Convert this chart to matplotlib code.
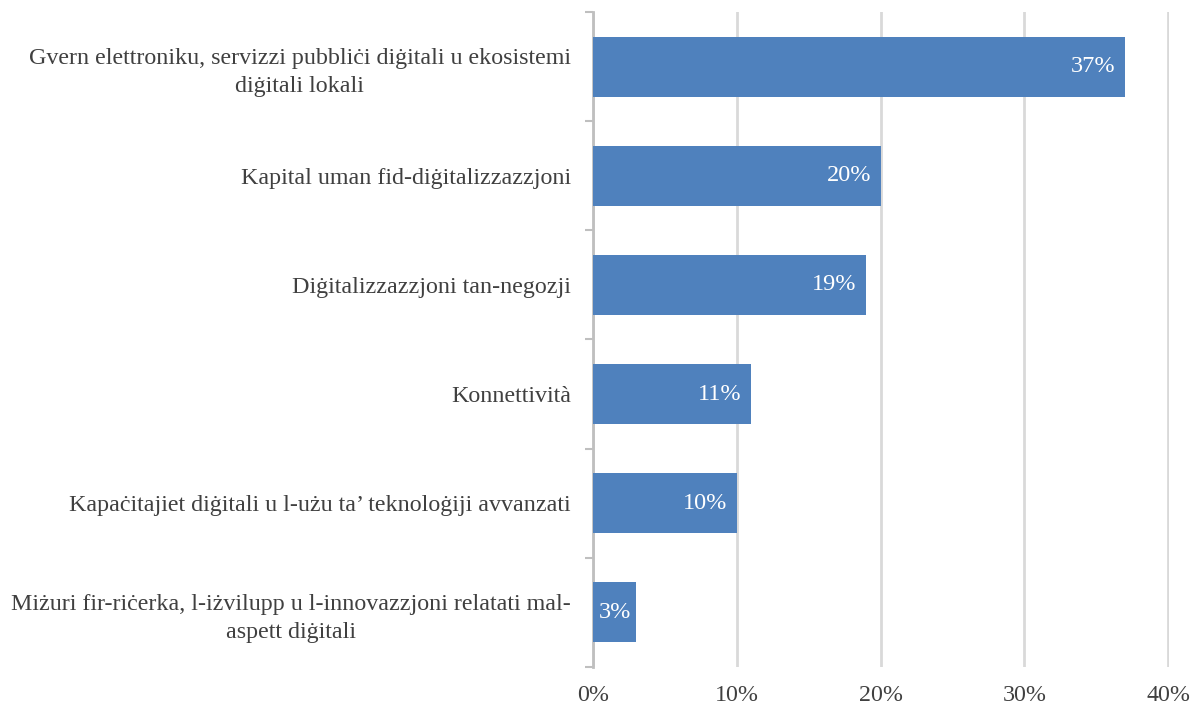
import matplotlib
matplotlib.use("Agg")
import matplotlib.pyplot as plt
from matplotlib.ticker import FixedLocator, PercentFormatter

categories = [
    "Gvern elettroniku, servizzi pubbliċi diġitali u ekosistemi\ndiġitali lokali",
    "Kapital uman fid-diġitalizzazzjoni",
    "Diġitalizzazzjoni tan-negozji",
    "Konnettività",
    "Kapaċitajiet diġitali u l-użu ta’ teknoloġiji avvanzati",
    "Miżuri fir-riċerka, l-iżvilupp u l-innovazzjoni relatati mal-\naspett diġitali",
]
values = [37, 20, 19, 11, 10, 3]

plt.rcParams['font.family'] = ['Liberation Serif', 'DejaVu Serif']

fig = plt.figure(figsize=(11.92, 7.05), dpi=100)
ax = fig.add_axes([0.4975, 0.054, 0.4832, 0.929])

y = list(range(len(categories)))
ax.barh(y, values, height=0.55, color='#4F81BD', zorder=3)

for yi, v in zip(y, values):
    if v >= 5:
        ax.annotate(f"{v}%", xy=(v, yi), xytext=(-7, 0), textcoords='offset points',
                    ha='right', va='center', color='white', fontsize=17.5, zorder=4)
    else:
        # too narrow for an inside-end label, centre it like Excel does
        ax.text(v / 2, yi, f"{v}%", ha='center', va='center', color='white',
                fontsize=17.5, zorder=4)

ax.set_xlim(0, 40.05)
ax.set_ylim(len(categories) - 0.5, -0.5)
ax.set_xticks([0, 10, 20, 30, 40])
ax.xaxis.set_major_formatter(PercentFormatter(decimals=0))
ax.grid(axis='x', color='#D9D9D9', linewidth=2, zorder=0)
ax.tick_params(axis='x', length=0, labelsize=17.3, labelcolor='#404040', pad=13)

ax.set_yticks(y)
ax.set_yticklabels(categories, fontsize=17.3, color='#404040', ha='right')
ax.tick_params(axis='y', which='major', length=0, pad=16)
ax.yaxis.set_minor_locator(FixedLocator([i - 0.5 for i in range(len(categories) + 1)]))
ax.tick_params(axis='y', which='minor', length=6, width=1.5, color='#BFBFBF')
for lbl in ax.get_yticklabels():
    lbl.set_multialignment('center')
    lbl.set_linespacing(1.45)

for s in ['top', 'right', 'bottom']:
    ax.spines[s].set_visible(False)
ax.spines['left'].set_color('#BFBFBF')
ax.spines['left'].set_linewidth(2)

fig.savefig("out.png", dpi=100)
